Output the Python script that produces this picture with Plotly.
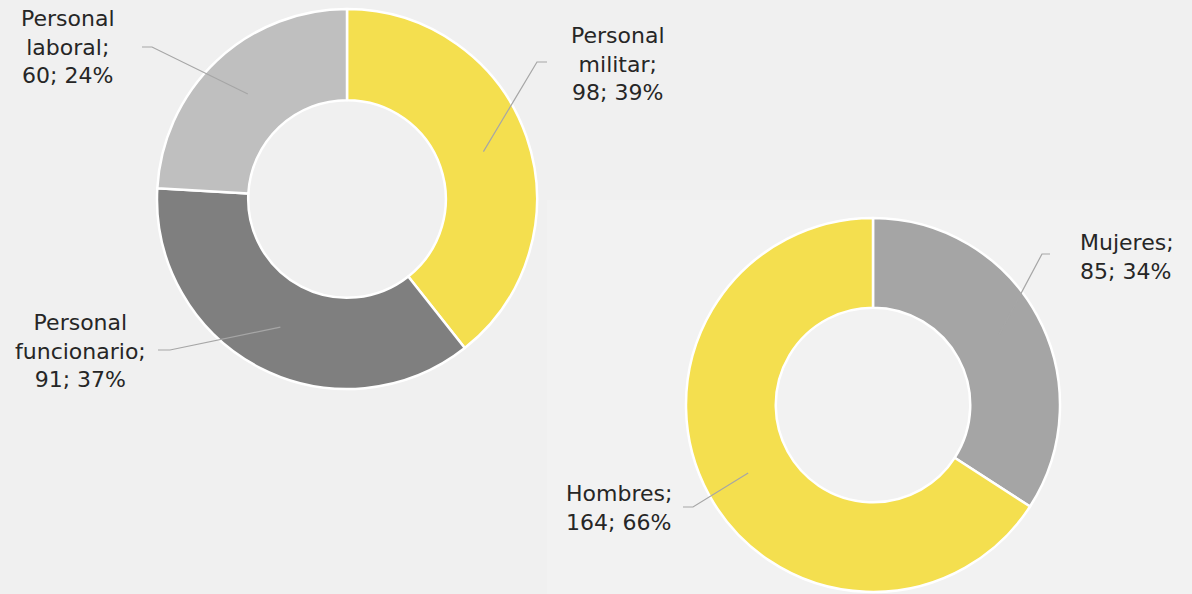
import math
import plotly.graph_objects as go

# Personal por tipo
tipo_labels = ["Personal militar", "Personal funcionario", "Personal laboral"]
tipo_values = [98, 91, 60]
tipo_colors = ["#f4df4f", "#7f7f7f", "#bfbfbf"]

# Personal por sexo
sexo_labels = ["Mujeres", "Hombres"]
sexo_values = [85, 164]
sexo_colors = ["#a5a5a5", "#f4df4f"]

W, H = 1192, 594
HOLE = 0.52

# Donut geometry in pixels: centre x, centre y (from top), outer radius
tipo_geo = (347, 199, 190)
sexo_geo = (873, 405, 187)

# Label text boxes (centre, pixels) and leader-line elbows
tipo_label_pos = [(618, 64), (80, 351), (68, 47)]
tipo_elbow = [((537, 62), (547, 62)), ((170, 350), (158, 350)), ((152, 47), (142, 47))]
sexo_label_pos = [(1127, 257), (619, 508)]
sexo_elbow = [((1042, 254), (1050, 254)), ((693, 507), (683, 507))]

BG = "#f0f0f0"
TEXT = "#262626"
LEADER = "#a6a6a6"
FONT = "DejaVu Sans"


def domain(geo):
    cx, cy, r = geo
    return dict(x=[(cx - r) / W, (cx + r) / W],
                y=[(H - cy - r) / H, (H - cy + r) / H])


def mid_points(values, geo):
    """Point on the middle of the ring at each slice's mid-angle (clockwise from 12 o'clock)."""
    cx, cy, r = geo
    rho = r * (1 + HOLE) / 2
    total = sum(values)
    pts, acc = [], 0
    for v in values:
        ang = (acc + v / 2) / total * 2 * math.pi
        pts.append((cx + rho * math.sin(ang), cy - rho * math.cos(ang)))
        acc += v
    return pts


fig = go.Figure()

for labels, values, colors, geo in [
    (tipo_labels, tipo_values, tipo_colors, tipo_geo),
    (sexo_labels, sexo_values, sexo_colors, sexo_geo),
]:
    fig.add_trace(go.Pie(
        labels=labels, values=values, hole=HOLE, sort=False,
        direction="clockwise", rotation=0,
        marker=dict(colors=colors, line=dict(color="white", width=2.5)),
        textinfo="none", hoverinfo="label+value+percent",
        domain=domain(geo), showlegend=False,
    ))

annotations = []
shapes = [dict(type="rect", xref="x", yref="y", x0=547, x1=W, y0=200, y1=H,
               fillcolor="#f2f2f2", line=dict(width=0), layer="below")]

for labels, values, geo, lpos, elbows in [
    (tipo_labels, tipo_values, tipo_geo, tipo_label_pos, tipo_elbow),
    (sexo_labels, sexo_values, sexo_geo, sexo_label_pos, sexo_elbow),
]:
    total = sum(values)
    for lab, v, (px, py), (lx, ly), (e1, e2) in zip(
            labels, values, mid_points(values, geo), lpos, elbows):
        pct = round(v / total * 100)
        words = lab.split(" ")
        if len(words) > 1:
            txt = f"{words[0]}<br>{' '.join(words[1:])};<br>{v}; {pct}%"
        else:
            txt = f"{lab};<br>{v}; {pct}%"
        annotations.append(dict(
            x=lx, y=ly, xref="x", yref="y", text=txt, showarrow=False,
            xanchor="center", yanchor="middle", align="center" if len(words) > 1 else "left",
            font=dict(family=FONT, size=22, color=TEXT),
        ))
        path = f"M{px},{py} L{e1[0]},{e1[1]} L{e2[0]},{e2[1]}"
        shapes.append(dict(type="path", xref="x", yref="y", path=path,
                           line=dict(color=LEADER, width=1.2), layer="above"))

fig.update_layout(
    width=W, height=H,
    margin=dict(l=0, r=0, t=0, b=0),
    paper_bgcolor=BG, plot_bgcolor="rgba(0,0,0,0)",
    xaxis=dict(range=[0, W], visible=False, fixedrange=True),
    yaxis=dict(range=[H, 0], visible=False, fixedrange=True),
    annotations=annotations, shapes=shapes,
)

fig.write_html("out.html")
